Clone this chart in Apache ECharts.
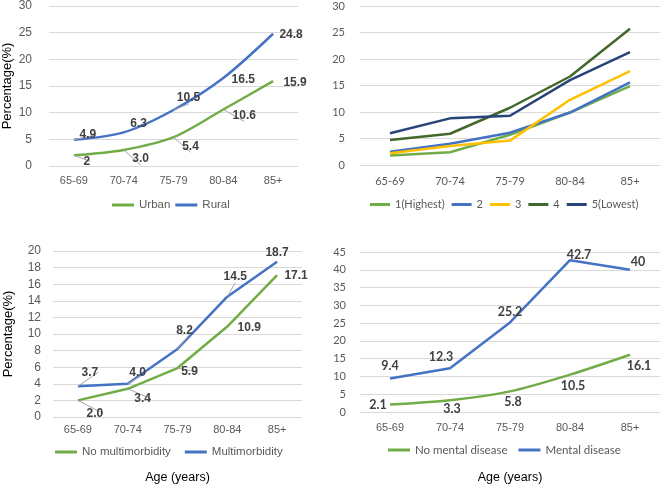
<!DOCTYPE html>
<html>
<head>
<meta charset="utf-8">
<script src="https://cdn.jsdelivr.net/npm/echarts@6/dist/echarts.min.js"></script>
<style>
html,body{margin:0;padding:0;background:#fff;}
#chart{width:660px;height:485px;}
</style>
</head>
<body>
<div id="chart"></div>
<script>
// ---- Data ----
const ageGroups = ['65-69', '70-74', '75-79', '80-84', '85+'];

const urban = [2.0, 3.0, 5.4, 10.6, 15.9];
const rural = [4.9, 6.3, 10.5, 16.5, 24.8];
const urbanText = ['2', '3.0', '5.4', '10.6', '15.9'];
const ruralText = ['4.9', '6.3', '10.5', '16.5', '24.8'];

const q1 = [1.8, 2.4, 5.7, 9.9, 14.9];
const q2 = [2.5, 4.0, 6.1, 9.9, 15.6];
const q3 = [2.2, 3.6, 4.6, 12.3, 17.7];
const q4 = [4.7, 5.9, 10.8, 16.7, 25.7];
const q5 = [6.0, 8.8, 9.3, 16.0, 21.3];

const noMulti = [2.0, 3.4, 5.9, 10.9, 17.1];
const multi = [3.7, 4.0, 8.2, 14.5, 18.7];
const noMultiText = ['2.0', '3.4', '5.9', '10.9', '17.1'];
const multiText = ['3.7', '4.0', '8.2', '14.5', '18.7'];

const noMental = [2.1, 3.3, 5.8, 10.5, 16.1];
const mental = [9.4, 12.3, 25.2, 42.7, 40];
const noMentalText = ['2.1', '3.3', '5.8', '10.5', '16.1'];
const mentalText = ['9.4', '12.3', '25.2', '42.7', '40'];

const yTicksTL = [0, 30, 5];
const yTicksTR = [0, 30, 5];
const yTicksBL = [0, 20, 2];
const yTicksBR = [0, 45, 5];

// ---- Label placement (offsets from point, leader flags) ----
const urbanOff = [[13, 6], [17, 9], [17, 9], [21, 6], [22, 1]];
const ruralOff = [[14, -5], [15, -9], [15, -12], [20, 2], [18, 1]];
const urbanLead = [1, 1, 1, 1, 0];
const ruralLead = [1, 0, 1, 0, 0];
const noMultiOff = [[17, 13], [15, 10], [12, 4], [22, 1], [19, 1]];
const multiOff = [[12, -14], [10, -11], [7, -18], [8, -20], [0, -9]];
const noMultiLead = [1, 1, 1, 0, 0];
const multiLead = [1, 1, 1, 1, 0];
const noMentalOff = [[-12, 0], [2, 9], [3, 11], [3, 11], [9, 11]];
const mentalOff = [[0, -13], [-9, -11], [0, -10], [9, -5], [8, -8]];

const GREEN = '#70AD47', BLUE = '#4472C4', YELLOW = '#FFC000', DKGREEN = '#43682B', NAVY = '#264478';
const ARIAL = 'Liberation Sans', CAL = 'Lato';
const AXIS_TXT = '#595959', LBL_TXT = '#404040', GRID_LINE = '#d9d9d9';

function labeled(values, texts, offs, leads, font, size) {
  return values.map((v, i) => ({
    value: v,
    label: {
      show: true, position: 'inside', offset: offs[i],
      formatter: texts[i], fontFamily: font, fontWeight: 'bold', fontSize: size, color: LBL_TXT
    },
    labelLine: leads ? { show: !!leads[i], lineStyle: { color: '#a6a6a6', width: 1 } } : { show: false }
  }));
}

function lineSeries(name, color, data, idx, smooth) {
  return {
    name: name, type: 'line', xAxisIndex: idx, yAxisIndex: idx, data: data,
    smooth: smooth || false, symbol: 'circle', symbolSize: 0, showSymbol: true,
    lineStyle: { color: color, width: 2.5 }, itemStyle: { color: color },
    emphasis: { disabled: true }, animation: false, z: 3
  };
}

function xAx(idx, font, size, margin, extra) {
  return Object.assign({
    type: 'category', gridIndex: idx, data: ageGroups, boundaryGap: true,
    axisLine: { show: false }, axisTick: { show: false },
    axisLabel: { color: AXIS_TXT, fontFamily: font, fontSize: size, margin: margin }
  }, extra || {});
}
function yAx(idx, ticks, font, size, margin, extra) {
  return Object.assign({
    type: 'value', gridIndex: idx, min: ticks[0], max: ticks[1], interval: ticks[2],
    axisLine: { show: false }, axisTick: { show: false },
    splitLine: { lineStyle: { color: GRID_LINE, width: 1 } },
    axisLabel: { color: AXIS_TXT, fontFamily: font, fontSize: size, margin: margin }
  }, extra || {});
}

const legendBase = { icon: 'rect', itemHeight: 3, padding: 0 };

const option = {
  backgroundColor: '#fff',
  animation: false,
  grid: [
    { left: 49, top: 5, width: 249, height: 161 },
    { left: 360, top: 6, width: 300, height: 159 },
    { left: 53, top: 251, width: 249, height: 166 },
    { left: 360, top: 252, width: 300, height: 160 }
  ],
  xAxis: [
    xAx(0, ARIAL, 11, 9),
    xAx(1, CAL, 11, 11),
    xAx(2, ARIAL, 11, 7, { name: 'Age (years)', nameLocation: 'middle', nameGap: 54,
      nameTextStyle: { fontFamily: ARIAL, fontSize: 12.5, color: '#000' } }),
    xAx(3, ARIAL, 11, 10, { name: 'Age (years)', nameLocation: 'middle', nameGap: 59,
      nameTextStyle: { fontFamily: ARIAL, fontSize: 12.5, color: '#000' } })
  ],
  yAxis: [
    yAx(0, yTicksTL, ARIAL, 12, 17, { name: 'Percentage(%)', nameLocation: 'middle', nameGap: 35,
      nameTextStyle: { fontFamily: ARIAL, fontSize: 13, color: '#000' } }),
    yAx(1, yTicksTR, CAL, 11, 15),
    yAx(2, yTicksBL, ARIAL, 12, 12, { name: 'Percentage(%)', nameLocation: 'middle', nameGap: 38,
      nameTextStyle: { fontFamily: ARIAL, fontSize: 13, color: '#000' } }),
    yAx(3, yTicksBR, CAL, 11, 14)
  ],
  legend: [
    Object.assign({ data: ['Urban', 'Rural'], left: 112, top: 199, itemWidth: 22, itemGap: 5,
      textStyle: { fontFamily: ARIAL, fontSize: 11.5, color: AXIS_TXT } }, legendBase),
    Object.assign({ data: ['1(Highest)', '2', '3', '4', '5(Lowest)'], left: 370, top: 199, itemWidth: 20, itemGap: 7,
      textStyle: { fontFamily: CAL, fontSize: 11, color: AXIS_TXT } }, legendBase),
    Object.assign({ data: ['No multimorbidity', 'Multimorbidity'], left: 55, top: 446, itemWidth: 22, itemGap: 14,
      textStyle: { fontFamily: ARIAL, fontSize: 11.5, color: AXIS_TXT } }, legendBase),
    Object.assign({ data: ['No mental disease', 'Mental disease'], left: 388, top: 444, itemWidth: 22, itemGap: 11,
      textStyle: { fontFamily: CAL, fontSize: 11.5, color: AXIS_TXT } }, legendBase)
  ],
  series: [
    lineSeries('Urban', GREEN, labeled(urban, urbanText, urbanOff, urbanLead, ARIAL, 12), 0, 0.3),
    lineSeries('Rural', BLUE, labeled(rural, ruralText, ruralOff, ruralLead, ARIAL, 12), 0, 0.3),
    lineSeries('1(Highest)', GREEN, q1, 1),
    lineSeries('2', BLUE, q2, 1),
    lineSeries('3', YELLOW, q3, 1),
    lineSeries('4', DKGREEN, q4, 1),
    lineSeries('5(Lowest)', NAVY, q5, 1),
    lineSeries('No multimorbidity', GREEN, labeled(noMulti, noMultiText, noMultiOff, noMultiLead, ARIAL, 12), 2),
    lineSeries('Multimorbidity', BLUE, labeled(multi, multiText, multiOff, multiLead, ARIAL, 12), 2),
    lineSeries('No mental disease', GREEN, labeled(noMental, noMentalText, noMentalOff, null, CAL, 12.5), 3, 0.3),
    lineSeries('Mental disease', BLUE, labeled(mental, mentalText, mentalOff, null, CAL, 12.5), 3)
  ]
};

const chart = echarts.init(document.getElementById('chart'), null, { renderer: 'canvas' });
chart.setOption(option);
</script>
</body>
</html>
